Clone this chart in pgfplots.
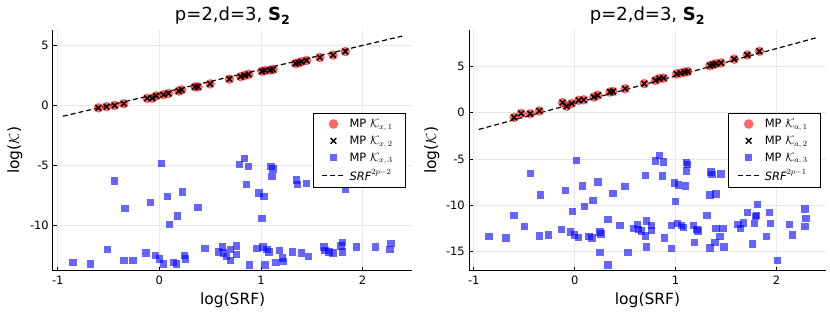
\documentclass[border=0pt]{standalone}
\usepackage{fontspec}
\setmainfont{DejaVu Sans}
\usepackage{pgfplots}
\pgfplotsset{compat=1.18}

\pgfplotsset{
  every axis title shift=0pt,
  myaxis/.style={
    scale only axis, height=240.7pt,
    axis lines*=left,
    axis line style={line width=1pt, black},
    tick align=inside,
    major tick length=4pt,
    tick style={black, line width=0.8pt},
    grid=major,
    grid style={black!9, line width=0.6pt},
    xmin=-1.047, xmax=2.49,
    xtick={-1,0,1,2}, xticklabels={-1,0,1,2},
    ticklabel style={font=\fontsize{11.5}{13}\selectfont},
    xticklabel style={anchor=base, yshift=-14.3pt, inner sep=0pt},
    yticklabel style={anchor=east, inner sep=0pt, xshift=-4pt},
    title style={at={(axis description cs:0.5,1.0374)}, anchor=base, inner sep=0pt, font=\fontsize{18}{22}\selectfont},
    xlabel style={at={(axis description cs:0.5,-0.0914)}, anchor=north, inner sep=0pt, font=\fontsize{15.5}{18}\selectfont},
    ylabel style={anchor=base, inner sep=0pt, font=\fontsize{15.5}{18}\selectfont},
    legend cell align=left,
    legend style={anchor=north east, draw=black, line width=1pt, fill=white,
      font=\fontsize{11.5}{13}\selectfont, inner xsep=8.5pt, inner ysep=3pt,
      row sep=2pt, nodes={inner xsep=4.5pt, inner ysep=2.5pt}},
  },
  redpts/.style={only marks, color=red, mark=*, mark size=4.8pt,
    mark options={solid, fill=red, draw opacity=0, fill opacity=0.6},
    legend image code/.code={\draw[##1] plot coordinates {(11pt,0pt)};}},
  xpts/.style={only marks, color=black, mark=x, mark size=4pt, line width=1.5pt,
    mark options={solid, draw=black, line width=1.5pt},
    legend image code/.code={\draw[##1] plot coordinates {(11pt,0pt)};}},
  bluepts/.style={only marks, color=blue, mark=square*, mark size=3.7pt,
    mark options={solid, fill=blue, draw opacity=0, fill opacity=0.6},
    legend image code/.code={\draw[##1] plot coordinates {(11pt,0pt)};}},
  dashln/.style={no marks, black, line width=1.2pt, dash pattern=on 5pt off 3pt,
    legend image code/.code={\draw[##1] (0pt,0pt) -- (22pt,0pt);}},
}

\pgfplotstableread{
x y
-0.60 -0.2
-0.52 -0.1
-0.44 0.0
-0.35 0.15
-0.12 0.6
-0.07 0.6
-0.03 0.8
0.04 0.9
0.09 1.0
0.19 1.2
0.22 1.3
0.35 1.55
0.38 1.55
0.50 1.8
0.69 2.2
0.80 2.4
0.84 2.5
0.88 2.6
1.01 2.85
1.04 2.9
1.09 2.95
1.12 3.0
1.34 3.5
1.37 3.55
1.40 3.65
1.45 3.75
1.58 4.0
1.71 4.2
1.83 4.5
}\leftline

\pgfplotstableread{
x y
-0.85 -13.1
-0.68 -13.2
-0.51 -12.0
-0.44 -6.3
-0.35 -12.9
-0.34 -8.6
-0.26 -12.9
-0.13 -12.3
-0.09 -8.1
-0.04 -12.5
0.00 -12.8
0.02 -4.85
0.04 -13.2
0.08 -7.6
0.10 -9.9
0.14 -13.1
0.17 -13.2
0.18 -9.2
0.23 -7.2
0.25 -12.5
0.26 -12.8
0.38 -8.5
0.45 -11.9
0.58 -12.2
0.62 -11.8
0.63 -12.3
0.66 -12.6
0.70 -12.0
0.70 -12.9
0.76 -11.7
0.76 -12.4
0.79 -4.9
0.84 -4.4
0.86 -6.6
0.88 -5.1
0.89 -13.3
0.96 -11.9
0.98 -7.3
1.01 -9.4
1.02 -11.8
1.03 -7.6
1.04 -13.3
1.06 -12.0
1.08 -12.2
1.10 -5.1
1.11 -5.9
1.12 -5.3
1.15 -13.1
1.18 -12.1
1.21 -12.7
1.22 -13.0
1.31 -12.2
1.35 -6.2
1.36 -6.6
1.40 -12.3
1.45 -6.5
1.47 -12.6
1.62 -11.8
1.63 -12.1
1.67 -12.2
1.71 -12.3
1.79 -11.7
1.80 -11.4
1.80 -12.2
1.83 -7.0
1.94 -11.8
2.13 -11.8
2.28 -11.5
2.27 -12.0
}\leftblue

\pgfplotstableread{
x y
-0.60 -0.5
-0.53 -0.07
-0.44 -0.1
-0.35 0.2
-0.12 1.1
-0.08 0.7
-0.03 1.0
0.04 1.35
0.09 1.4
0.19 1.7
0.23 1.9
0.35 2.25
0.38 2.3
0.50 2.6
0.69 3.15
0.80 3.5
0.84 3.7
0.88 3.75
1.01 4.2
1.05 4.3
1.09 4.4
1.12 4.45
1.34 5.1
1.37 5.2
1.40 5.3
1.45 5.4
1.58 5.8
1.71 6.25
1.83 6.65
}\rightline

\pgfplotstableread{
x y
-0.85 -13.4
-0.68 -13.55
-0.60 -11.1
-0.50 -12.3
-0.44 -6.55
-0.35 -13.3
-0.34 -8.9
-0.26 -13.2
-0.13 -12.6
-0.09 -8.4
-0.04 -12.9
-0.02 -10.65
0.00 -13.2
0.02 -5.15
0.04 -13.5
0.08 -7.9
0.10 -10.1
0.14 -13.4
0.17 -13.55
0.18 -9.5
0.23 -7.5
0.25 -12.9
0.26 -13.1
0.25 -15.1
0.33 -11.55
0.33 -16.45
0.38 -8.7
0.45 -12.2
0.50 -8.0
0.53 -15.1
0.58 -12.5
0.62 -12.1
0.63 -12.6
0.66 -12.8
0.70 -6.8
0.70 -13.3
0.71 -11.7
0.71 -14.5
0.76 -12.2
0.76 -12.7
0.80 -5.2
0.84 -4.6
0.87 -6.85
0.88 -5.3
0.89 -13.55
0.96 -14.7
0.96 -12.2
0.99 -7.6
1.00 -9.6
1.02 -12.0
1.03 -7.8
1.06 -12.2
1.08 -12.4
1.10 -7.9
1.11 -5.4
1.11 -6.3
1.12 -5.6
1.18 -12.2
1.19 -14.0
1.21 -12.6
1.22 -12.8
1.31 -11.1
1.34 -14.6
1.35 -6.4
1.34 -8.9
1.36 -6.7
1.39 -14.0
1.40 -8.8
1.40 -12.5
1.44 -13.4
1.45 -6.6
1.47 -12.5
1.48 -14.5
1.62 -12.1
1.64 -12.5
1.67 -11.9
1.71 -10.8
1.76 -14.2
1.78 -12.0
1.79 -11.2
1.80 -11.1
1.81 -9.9
1.90 -13.4
1.93 -10.8
1.94 -12.0
2.01 -16.0
2.13 -12.1
2.16 -13.2
2.28 -10.4
2.29 -11.45
2.28 -12.3
}\rightblue

\begin{document}
\begin{tikzpicture}[x=1pt,y=1pt]
\path[use as bounding box] (0,0) rectangle (830,312);

\begin{axis}[myaxis, at={(53pt,41.3pt)}, anchor=south west, width=359.3pt,
  ymin=-13.77, ymax=6.29, ytick={-10,-5,0,5}, yticklabels={-10,-5,0,5},
  title={p=2,d=3, $\mathbf{S_2}$},
  xlabel={log(SRF)}, ylabel={log($\mathcal{K}$)},
  ylabel style={at={(axis description cs:-0.0946,0.5)}},
  legend style={at={(0.9825,0.655)}}]
\addplot[redpts] table[x=x,y=y] {\leftline};
\addlegendentry{MP $\mathcal{K}_{x,\,1}$}
\addplot[xpts] table[x=x,y=y] {\leftline};
\addlegendentry{MP $\mathcal{K}_{x,\,2}$}
\addplot[bluepts] table[x=x,y=y] {\leftblue};
\addlegendentry{MP $\mathcal{K}_{x,\,3}$}
\addplot[dashln] coordinates {(-0.95,-0.9) (2.39,5.78)};
\addlegendentry{$\mathit{SRF}^{2p-2}$}
\end{axis}

\begin{axis}[myaxis, at={(469pt,41.3pt)}, anchor=south west, width=357pt,
  ymin=-17.07, ymax=8.95, ytick={-15,-10,-5,0,5}, yticklabels={-15,-10,-5,0,5},
  title={p=2,d=3, $\mathbf{S_2}$},
  xlabel={log(SRF)}, ylabel={log($\mathcal{K}$)},
  ylabel style={at={(axis description cs:-0.0924,0.5)}},
  legend style={at={(0.986,0.655)}}]
\addplot[redpts] table[x=x,y=y] {\rightline};
\addlegendentry{MP $\mathcal{K}_{a,\,1}$}
\addplot[xpts] table[x=x,y=y] {\rightline};
\addlegendentry{MP $\mathcal{K}_{a,\,2}$}
\addplot[bluepts] table[x=x,y=y] {\rightblue};
\addlegendentry{MP $\mathcal{K}_{a,\,3}$}
\addplot[dashln] coordinates {(-0.95,-1.8) (2.39,8.1)};
\addlegendentry{$\mathit{SRF}^{2p-1}$}
\end{axis}
\end{tikzpicture}
\end{document}
